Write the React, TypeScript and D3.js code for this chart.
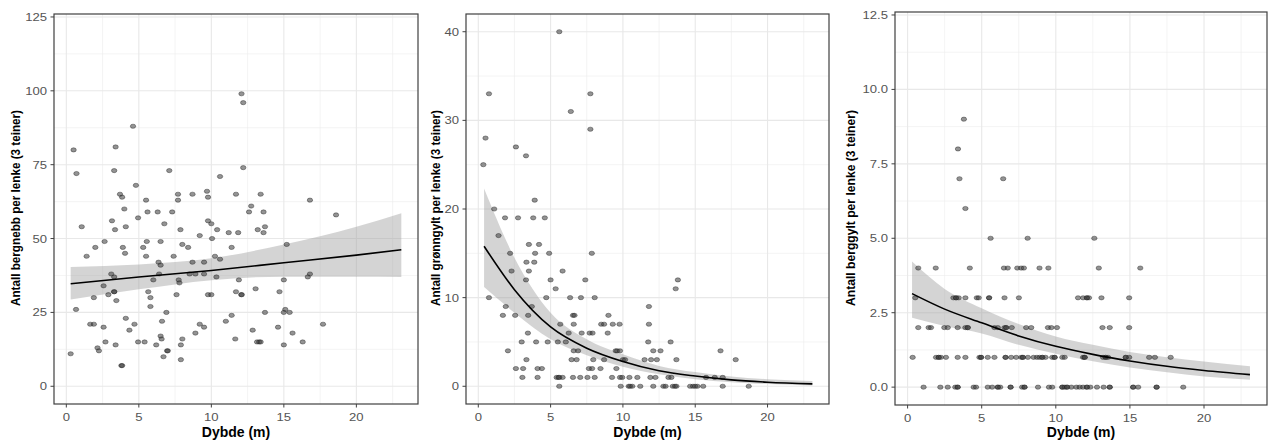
import React from 'react';
import * as d3 from 'd3';

// depth (m) and count per chain
const bergnebbDepth = [12.08, 12.2, 4.6, 0.5, 3.4, 0.7, 3.3, 7.1, 12.2, 10.6, 4.8, 3.7, 3.85, 7.7, 8.7, 9.7, 9.77, 11.7, 13.4, 5.5, 7.7, 16.8, 12.75, 4.0, 5.6, 6.3, 7.3, 12.6, 13.6, 18.6, 4.95, 3.15, 9.77, 10.0, 6.76, 1.06, 4.1, 13.7, 3.36, 7.87, 10.4, 13.2, 11.2, 11.85, 13.6, 9.2, 10.05, 5.55, 2.64, 6.5, 15.2, 8.0, 8.4, 2.0, 3.9, 5.3, 11.4, 1.4, 5.5, 7.4, 4.05, 10.25, 10.6, 6.36, 8.7, 9.5, 6.5, 3.1, 3.3, 6.4, 8.5, 8.9, 9.5, 16.8, 16.65, 10.35, 7.75, 6.0, 11.9, 15.0, 7.8, 2.57, 13.05, 3.3, 3.3, 5.65, 11.7, 14.7, 2.9, 7.6, 9.77, 10.0, 12.06, 12.1, 1.9, 5.8, 3.45, 5.8, 0.67, 15.1, 6.9, 13.7, 15.0, 15.4, 11.4, 4.1, 6.6, 11.0, 1.65, 1.9, 4.7, 9.2, 17.7, 2.57, 9.5, 14.6, 4.35, 12.85, 8.9, 15.6, 6.5, 8.0, 6.57, 11.65, 2.7, 4.95, 5.4, 13.15, 13.3, 13.4, 16.3, 3.4, 6.2, 7.9, 15.0, 2.15, 2.25, 6.95, 7.0, 6.7, 7.9, 0.3, 3.8, 3.85];
const bergnebbCount = [99, 96, 88, 80, 81, 72, 73, 73, 74, 71, 68, 65, 64, 65, 65, 66, 64, 65, 65, 63, 63, 63, 61, 60, 59, 59, 59, 59, 59, 58, 57, 56, 56, 55, 55, 54, 54, 54, 53, 53, 53, 53, 52, 52, 52, 51, 50, 49, 49, 49, 48, 48, 47, 47, 47, 47, 47, 44, 44, 44, 45, 44, 43, 42, 42, 42, 41, 38, 37, 38, 38, 38, 38, 38, 37, 37, 36, 36, 36, 36, 35, 34, 33, 32, 32, 32, 32, 32, 31, 31, 31, 31, 31, 31, 30, 30, 29, 27, 26, 26, 25, 25, 25, 25, 24, 23, 22, 22, 21, 21, 21, 21, 21, 20, 20, 20, 19, 19, 18, 18, 17, 16, 16, 16, 15, 15, 15, 15, 15, 15, 15, 14, 14, 14, 14, 13, 12, 12, 12, 10, 9, 11, 7, 7];

const gronngyltDepth = [5.6, 0.74, 7.75, 6.4, 7.75, 0.5, 2.6, 3.3, 0.35, 3.9, 1.1, 1.85, 2.75, 3.8, 4.6, 1.4, 3.5, 4.2, 2.2, 3.93, 4.9, 7.85, 3.33, 3.87, 2.3, 3.5, 5.83, 3.3, 5.0, 7.4, 13.8, 5.35, 13.65, 0.74, 4.7, 6.35, 7.1, 8.05, 1.9, 3.7, 11.8, 1.7, 2.55, 3.45, 6.55, 6.65, 9.0, 5.67, 6.6, 8.5, 8.7, 9.3, 9.77, 11.8, 3.43, 6.25, 7.15, 7.7, 7.9, 8.95, 3.0, 4.0, 4.8, 5.5, 6.05, 11.75, 13.3, 2.05, 6.6, 6.9, 9.5, 9.6, 9.8, 12.1, 12.6, 16.75, 3.33, 6.45, 6.8, 7.95, 8.7, 10.0, 10.15, 11.5, 11.95, 12.35, 13.7, 17.8, 2.6, 3.1, 4.1, 4.4, 7.65, 7.87, 8.45, 9.55, 3.05, 4.1, 5.42, 5.55, 5.6, 5.83, 6.55, 7.05, 7.55, 8.05, 9.25, 9.8, 9.95, 10.45, 11.0, 11.9, 12.25, 13.15, 13.35, 15.75, 16.35, 16.9, 5.6, 9.85, 10.4, 10.5, 10.65, 11.2, 12.1, 12.8, 12.95, 13.45, 13.6, 13.7, 14.65, 14.85, 15.0, 15.15, 15.55, 16.9, 18.7];
const gronngyltCount = [40, 33, 33, 31, 29, 28, 27, 26, 25, 21, 20, 19, 19, 19, 19, 17, 16, 16, 15, 15, 15, 15, 14, 14, 13, 13, 13, 12, 12, 12, 12, 11, 11, 10, 10, 10, 10, 10, 9, 9, 9, 8, 8, 8, 8, 8, 8, 7, 7, 7, 7, 7, 7, 7, 6, 6, 6, 6, 6, 6, 5, 5, 5, 5, 5, 5, 5, 4, 4, 4, 4, 4, 4, 4, 4, 4, 3, 3, 3, 3, 3, 3, 3, 3, 3, 3, 3, 3, 2, 2, 2, 2, 2, 2, 2, 2, 1, 1, 1, 1, 1, 1, 1, 1, 1, 1, 1, 1, 1, 1, 1, 1, 1, 1, 1, 1, 1, 1, 0, 0, 0, 0, 0, 0, 0, 0, 0, 0, 0, 0, 0, 0, 0, 0, 0, 0, 0];

const berggyltDepth = [3.8, 3.4, 3.5, 6.45, 3.9, 5.6, 8.1, 12.6, 0.72, 1.9, 4.2, 6.5, 6.76, 7.4, 7.66, 7.85, 8.9, 9.5, 12.9, 15.7, 0.52, 3.09, 3.27, 3.27, 3.45, 3.9, 4.67, 4.8, 5.5, 5.5, 6.54, 7.51, 11.5, 11.84, 12.1, 12.1, 12.24, 13.08, 14.95, 0.72, 1.42, 1.58, 2.48, 2.71, 3.38, 3.9, 4.06, 4.06, 5.86, 6.09, 6.54, 6.65, 6.65, 7.03, 8.0, 8.34, 9.47, 9.7, 10.08, 13.15, 13.64, 14.95, 0.34, 1.92, 2.1, 2.1, 2.25, 2.59, 3.38, 3.9, 4.85, 4.96, 4.96, 5.41, 5.86, 6.61, 6.61, 6.99, 7.33, 7.67, 7.78, 7.78, 8.12, 8.5, 8.73, 8.91, 9.09, 9.09, 9.31, 9.76, 9.92, 9.92, 10.44, 10.6, 11.84, 11.95, 11.95, 13.19, 13.37, 13.37, 13.53, 14.72, 14.72, 14.95, 16.3, 16.69, 17.75, 1.08, 2.21, 2.71, 3.22, 3.38, 3.38, 4.46, 4.62, 5.41, 5.71, 6.09, 6.09, 6.25, 6.95, 6.95, 7.73, 7.89, 7.89, 8.8, 9.54, 9.76, 10.44, 10.44, 10.6, 10.76, 10.76, 11.05, 11.39, 11.61, 11.84, 12.1, 12.1, 12.33, 12.78, 13.23, 13.64, 13.64, 15.22, 15.22, 15.56, 16.8, 16.8, 18.6];
const berggyltCount = [9, 8, 7, 7, 6, 5, 5, 5, 4, 4, 4, 4, 4, 4, 4, 4, 4, 4, 4, 4, 3, 3, 3, 3, 3, 3, 3, 3, 3, 3, 3, 3, 3, 3, 3, 3, 3, 3, 3, 2, 2, 2, 2, 2, 2, 2, 2, 2, 2, 2, 2, 2, 2, 2, 2, 2, 2, 2, 2, 2, 2, 2, 1, 1, 1, 1, 1, 1, 1, 1, 1, 1, 1, 1, 1, 1, 1, 1, 1, 1, 1, 1, 1, 1, 1, 1, 1, 1, 1, 1, 1, 1, 1, 1, 1, 1, 1, 1, 1, 1, 1, 1, 1, 1, 1, 1, 1, 0, 0, 0, 0, 0, 0, 0, 0, 0, 0, 0, 0, 0, 0, 0, 0, 0, 0, 0, 0, 0, 0, 0, 0, 0, 0, 0, 0, 0, 0, 0, 0, 0, 0, 0, 0, 0, 0, 0, 0, 0, 0, 0];

// fitted curves with confidence band, read at a few depths
const fit1Depth = [0.3, 5, 10, 15, 20, 23.1];
const fit1 = [34.7, 37.0, 39.2, 41.8, 44.4, 46.2];
const fit1Lo = [29.4, 32.8, 35.9, 37.1, 37.1, 37.0];
const fit1Hi = [40.4, 41.2, 43.3, 48.0, 54.0, 58.6];

const fit2Depth = [0.4, 2.5, 5, 7.5, 10, 12.5, 15, 17.5, 20, 23.1];
const fit2 = [15.8, 10.9, 6.7, 4.3, 2.8, 1.75, 1.15, 0.72, 0.46, 0.27];
const fit2Lo = [11.2, 8.3, 5.3, 3.5, 2.2, 1.35, 0.8, 0.45, 0.25, 0.1];
const fit2Hi = [22.3, 14.5, 8.3, 5.3, 3.6, 2.3, 1.6, 1.1, 0.8, 0.6];

const fit3Depth = [0.3, 2.5, 5, 7.5, 10, 12.5, 15, 17.5, 20, 23.1];
const fit3 = [3.14, 2.62, 2.16, 1.72, 1.37, 1.1, 0.88, 0.7, 0.56, 0.42];
const fit3Lo = [2.33, 2.05, 1.8, 1.42, 1.12, 0.87, 0.66, 0.5, 0.36, 0.25];
const fit3Hi = [4.22, 3.3, 2.65, 2.12, 1.7, 1.42, 1.18, 1.0, 0.86, 0.7];

const xTicks = [0, 5, 10, 15, 20];
const yTicks1 = [0, 25, 50, 75, 100, 125];
const yTicks2 = [0, 10, 20, 30, 40];
const yTicks3 = [0, 2.5, 5, 7.5, 10, 12.5];

const xTitle = 'Dybde (m)';
const yTitle1 = 'Antall bergnebb per lenke (3 teiner)';
const yTitle2 = 'Antall grønngylt per lenke (3 teiner)';
const yTitle3 = 'Antall berggylt per lenke (3 teiner)';

const FONT = '"Liberation Sans", Arial, sans-serif';

const midpoints = (t: number[]) => {
    const step = t[1] - t[0];
    const out: number[] = [];
    for (let i = 0; i <= t.length; i++) out.push(t[0] + (i - 0.5) * step);
    return out;
};

const Panel = ({ box, yDomain, yTicks, yFormat, depth, count, fx, fy, lo, hi, yTitle, titleX }: any) => {
    const { left, right, top, bottom } = box;
    const x = d3.scaleLinear().domain([-0.85, 24.25]).range([left, right]);
    const y = d3.scaleLinear().domain(yDomain).range([bottom, top]);

    const band = d3.area<number>()
        .x((d, i) => x(fx[i]))
        .y0((d, i) => y(lo[i]))
        .y1((d, i) => y(hi[i]))
        .curve(d3.curveMonotoneX);
    const fitLine = d3.line<number>()
        .x((d, i) => x(fx[i]))
        .y(d => y(d))
        .curve(d3.curveMonotoneX);

    const inX = (v: number) => v >= -0.85 && v <= 24.25;
    const inY = (v: number) => v >= yDomain[0] && v <= yDomain[1];

    return (
        <g>
            {/* grid */}
            {midpoints(xTicks).filter(inX).map(v => (
                <line key={'mx' + v} x1={x(v)} x2={x(v)} y1={top} y2={bottom} stroke="#ededed" strokeWidth={0.6} />
            ))}
            {midpoints(yTicks).filter(inY).map(v => (
                <line key={'my' + v} x1={left} x2={right} y1={y(v)} y2={y(v)} stroke="#ededed" strokeWidth={0.6} />
            ))}
            {xTicks.map(v => (
                <line key={'gx' + v} x1={x(v)} x2={x(v)} y1={top} y2={bottom} stroke="#e8e8e8" strokeWidth={1.1} />
            ))}
            {yTicks.map((v: number) => (
                <line key={'gy' + v} x1={left} x2={right} y1={y(v)} y2={y(v)} stroke="#e8e8e8" strokeWidth={1.1} />
            ))}

            <path d={band(fx) || ''} fill="#999" fillOpacity={0.42} />

            {depth.map((d: number, i: number) => (
                <ellipse key={i} cx={x(d)} cy={y(count[i])} rx={2.7} ry={2.1}
                    fill="#3a3a3a" fillOpacity={0.55} stroke="#222" strokeOpacity={0.6} strokeWidth={0.7} />
            ))}

            <path d={fitLine(fy) || ''} fill="none" stroke="#000" strokeWidth={1.6} />

            <rect x={left} y={top} width={right - left} height={bottom - top} fill="none" stroke="#404040" strokeWidth={1.2} />

            {/* axes */}
            {xTicks.map(v => (
                <g key={'tx' + v}>
                    <line x1={x(v)} x2={x(v)} y1={bottom} y2={bottom + 3.5} stroke="#404040" strokeWidth={1} />
                    <text transform={`translate(${x(v)},${bottom + 17}) scale(1.17,1)`} textAnchor="middle"
                        fontSize={11.2} fill="#555" fontFamily={FONT}>{v}</text>
                </g>
            ))}
            {yTicks.map((v: number) => (
                <g key={'ty' + v}>
                    <line x1={left - 3.5} x2={left} y1={y(v)} y2={y(v)} stroke="#404040" strokeWidth={1} />
                    <text transform={`translate(${left - 7},${y(v)}) scale(1.17,1)`} dy="0.36em" textAnchor="end"
                        fontSize={11.2} fill="#555" fontFamily={FONT}>{yFormat(v)}</text>
                </g>
            ))}

            <text x={(left + right) / 2} y={437} textAnchor="middle" fontSize={14} fontWeight="bold" fontFamily={FONT}>{xTitle}</text>
            <text transform={`translate(${titleX},208) rotate(-90)`} textAnchor="middle" dy="0.35em"
                fontSize={13.5} fontWeight="bold" fontFamily={FONT}
                textLength={196} lengthAdjust="spacingAndGlyphs">{yTitle}</text>
        </g>
    );
};

const App = () => {
    const plain = (v: number) => String(v);
    const oneDec = d3.format('.1f');
    return (
        <svg width={1269} height={441} style={{ position: 'absolute', left: 0, top: 0, background: '#fff' }}>
            <Panel box={{ left: 54, right: 418, top: 14, bottom: 404 }} yDomain={[-6, 126]} yTicks={yTicks1} yFormat={plain}
                depth={bergnebbDepth} count={bergnebbCount} fx={fit1Depth} fy={fit1} lo={fit1Lo} hi={fit1Hi}
                yTitle={yTitle1} titleX={15} />
            <Panel box={{ left: 466, right: 829, top: 14, bottom: 404 }} yDomain={[-2, 42]} yTicks={yTicks2} yFormat={plain}
                depth={gronngyltDepth} count={gronngyltCount} fx={fit2Depth} fy={fit2} lo={fit2Lo} hi={fit2Hi}
                yTitle={yTitle2} titleX={435} />
            <Panel box={{ left: 895, right: 1267, top: 12, bottom: 405 }} yDomain={[-0.6, 12.6]} yTicks={yTicks3} yFormat={oneDec}
                depth={berggyltDepth} count={berggyltCount} fx={fit3Depth} fy={fit3} lo={fit3Lo} hi={fit3Hi}
                yTitle={yTitle3} titleX={850} />
        </svg>
    );
};

export default App;
